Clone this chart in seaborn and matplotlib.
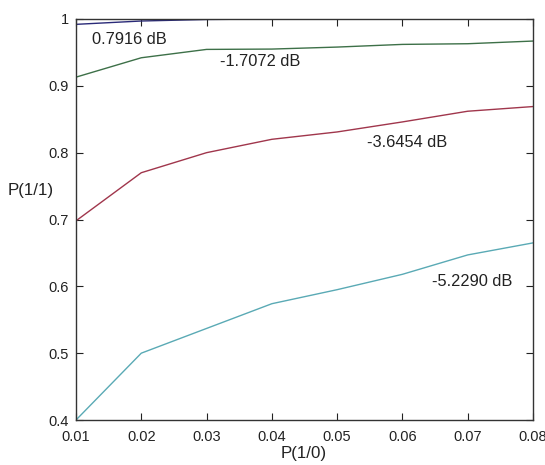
import matplotlib
matplotlib.use("Agg")
import matplotlib.pyplot as plt
import seaborn as sns
import pandas as pd

sns.set_theme(style="white")
plt.rcParams['font.family'] = ['Liberation Sans', 'DejaVu Sans']

p10 = [0.01, 0.02, 0.03, 0.04, 0.05, 0.06, 0.07, 0.08]
s_0791 = [0.992, 0.997, 0.9993, 1.0, 1.0, 1.0, 1.0, 1.0]
s_1707 = [0.913, 0.942, 0.9545, 0.955, 0.958, 0.962, 0.963, 0.967]
s_3645 = [0.698, 0.770, 0.800, 0.820, 0.831, 0.846, 0.862, 0.869]
s_5229 = [0.400, 0.500, 0.537, 0.574, 0.595, 0.618, 0.647, 0.665]
series_names = ["0.7916 dB", "-1.7072 dB", "-3.6454 dB", "-5.2290 dB"]
colors = ["#2a2a78", "#3d7048", "#a0364c", "#5aaab5"]
xticks = [0.01, 0.02, 0.03, 0.04, 0.05, 0.06, 0.07, 0.08]
xticklabels = ["0.01", "0.02", "0.03", "0.04", "0.05", "0.06", "0.07", "0.08"]
yticks = [0.4, 0.5, 0.6, 0.7, 0.8, 0.9, 1.0]
yticklabels = ["0.4", "0.5", "0.6", "0.7", "0.8", "0.9", "1"]

rows = []
for name, vals in zip(series_names, [s_0791, s_1707, s_3645, s_5229]):
    for x, y in zip(p10, vals):
        rows.append({"P10": x, "P11": y, "snr": name})
df = pd.DataFrame(rows)

fig = plt.figure(figsize=(5.45, 4.65), dpi=100)
ax = fig.add_axes([76/545, 1-420/465, 457/545, 401/465])
sns.lineplot(data=df, x="P10", y="P11", hue="snr", palette=colors,
             hue_order=series_names, linewidth=1.0, legend=False, ax=ax)

ax.set_xlim(0.01, 0.08)
ax.set_ylim(0.4, 1.0)
ax.set_xticks(xticks)
ax.set_xticklabels(xticklabels)
ax.set_yticks(yticks)
ax.set_yticklabels(yticklabels)
ax.tick_params(direction="in", length=5, width=0.8, color="#222222",
               top=True, right=True, bottom=True, left=True,
               labelsize=10.5, labelcolor="#222222")
ax.tick_params(axis="x", pad=7)
ax.tick_params(axis="y", pad=5)
for sp in ax.spines.values():
    sp.set_color("#333333")
    sp.set_linewidth(1.0)

ax.set_xlabel("")
ax.set_ylabel("")
fig.text(304/545, 1-453/465, "P(1/0)", ha="center", va="center", fontsize=12.2, color="#222222")
fig.text(31/545, 1-190/465, "P(1/1)", ha="center", va="center", fontsize=12.2, color="#222222")

label_pos = [(92, 40), (220, 62), (367, 142), (432, 282)]
for name, (px, py) in zip(series_names, label_pos):
    fig.text(px/545, 1-py/465, name, ha="left", va="center", fontsize=11.8, color="#222222")

fig.savefig("out.png", dpi=100)
